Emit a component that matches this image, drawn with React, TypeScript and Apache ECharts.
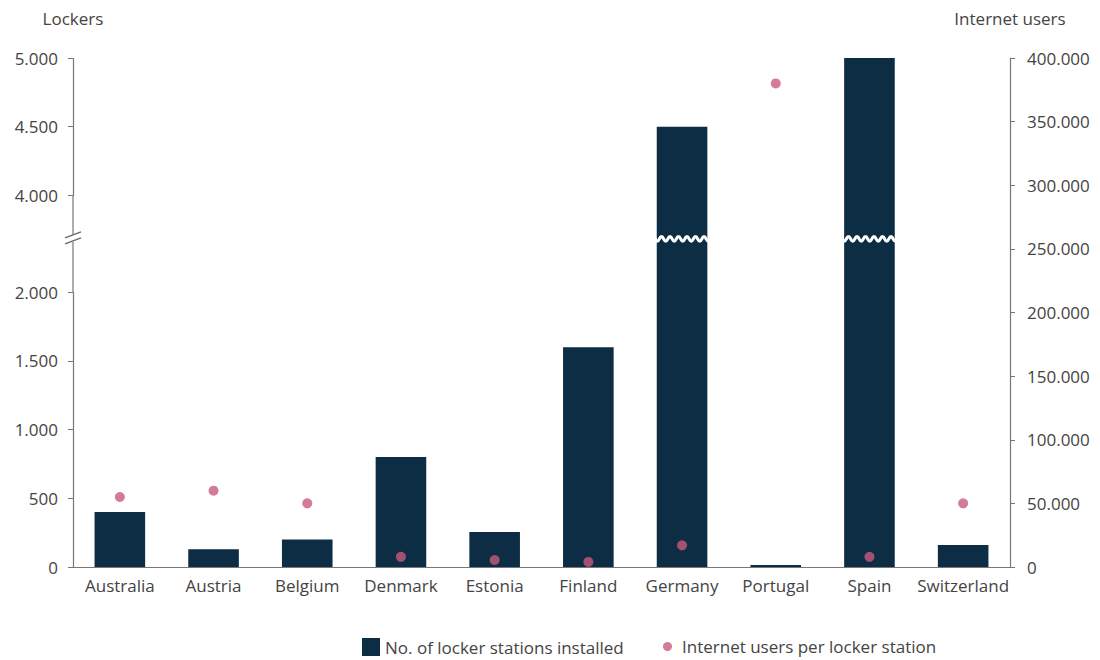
import React, { useEffect, useRef } from "react";
import * as echarts from "echarts";

const categories = ["Australia", "Austria", "Belgium", "Denmark", "Estonia", "Finland", "Germany", "Portugal", "Spain", "Switzerland"];
const lockerStations = [400, 130, 200, 800, 255, 1600, 4500, 15, 5000, 160];
const usersPerStation = [55000, 60000, 50000, 8000, 5500, 4000, 17000, 380000, 8000, 50000];
const leftTicks = [0, 500, 1000, 1500, 2000, 4000, 4500, 5000];
const barName = "No. of locker stations installed";
const dotName = "Internet users per locker station";

const FONT = "Open Sans";
const FS = 17;
const TXT = "#444";
const BAR = "#0c2d44";
const DOT = "#c95a7f";

const fmt = (v: number) => String(v).replace(/\B(?=(\d{3})+(?!\d))/g, ".");

export default function App() {
  const ref = useRef<HTMLDivElement>(null);
  useEffect(() => {
    if (!ref.current) return;
    const chart = echarts.init(ref.current, undefined, { renderer: "svg" });
    chart.setOption({
      animation: false,
      backgroundColor: "#fff",
      textStyle: { fontFamily: FONT },
      grid: { left: 73, right: 90, top: 58, bottom: 93 },
      legend: [
        {
          data: [{ name: barName, icon: "rect" }],
          left: 357,
          top: 633,
          itemWidth: 18,
          itemHeight: 18,
          textStyle: { fontFamily: FONT, fontSize: FS, color: TXT },
        },
        {
          data: [{ name: dotName, icon: "circle" }],
          left: 658,
          top: 633,
          itemWidth: 9,
          itemHeight: 9,
          textStyle: { fontFamily: FONT, fontSize: FS, color: TXT, padding: [0, 0, 0, 5] },
        },
      ],
      xAxis: {
        type: "category",
        data: categories,
        axisLine: { lineStyle: { color: "#777", width: 1.2 } },
        axisTick: { show: false },
        axisLabel: { fontFamily: FONT, fontSize: FS, color: TXT, margin: 10, interval: 0 },
      },
      yAxis: [
        {
          type: "value",
          min: 0,
          max: 5000,
          interval: 500,
          name: "Lockers",
          nameLocation: "end",
          nameGap: 31,
          nameTextStyle: { fontFamily: FONT, fontSize: FS, color: TXT, align: "center" },
          breaks: [{ start: 2000, end: 4000, gap: 706 }],
          breakArea: { show: false, expandOnClick: false },
          breakLabelLayout: { moveOverlap: false },
          axisLine: { show: true, lineStyle: { color: "#777", width: 1.2 } },
          axisTick: { show: true, length: 5, lineStyle: { color: "#777" } },
          splitLine: { show: false },
          axisLabel: {
            fontFamily: FONT,
            fontSize: FS,
            color: TXT,
            margin: 15,
            hideOverlap: false,
            formatter: (v: number) => (leftTicks.indexOf(v) >= 0 ? fmt(v) : ""),
          },
        },
        {
          type: "value",
          min: 0,
          max: 400000,
          interval: 50000,
          name: "Internet users",
          nameLocation: "end",
          nameGap: 31,
          nameTextStyle: { fontFamily: FONT, fontSize: FS, color: TXT, align: "center" },
          axisLine: { show: true, lineStyle: { color: "#777", width: 1.2 } },
          axisTick: { show: true, length: 5, lineStyle: { color: "#777" } },
          splitLine: { show: false },
          axisLabel: { fontFamily: FONT, fontSize: FS, color: TXT, margin: 17, formatter: (v: number) => fmt(v) },
        },
      ],
      series: [
        {
          name: barName,
          type: "bar",
          yAxisIndex: 0,
          data: lockerStations,
          barWidth: "54%",
          itemStyle: { color: BAR },
        },
        {
          name: dotName,
          type: "scatter",
          yAxisIndex: 1,
          data: usersPerStation,
          symbolSize: 10,
          itemStyle: { color: DOT },
          z: 5,
        },
      ],
    });

    const y2 = chart.convertToPixel({ yAxisIndex: 0 }, 2000) as number;
    const y4 = chart.convertToPixel({ yAxisIndex: 0 }, 4000) as number;
    const x0 = chart.convertToPixel({ xAxisIndex: 0 }, 0) as number;
    const x1 = chart.convertToPixel({ xAxisIndex: 0 }, 1) as number;
    const xL = x0 - (x1 - x0) / 2;
    const xR = xL + (x1 - x0) * categories.length;
    const ym = (y2 + y4) / 2 - 5;
    const pts: number[][] = [];
    const half = 4.25;
    let k = 0;
    for (let x = xL + 2; x <= xR - 2; x += half) {
      pts.push([x, ym + (k % 2 === 0 ? -2.2 : 2.2)]);
      k++;
    }
    chart.setOption({
      graphic: [
        { type: "line", shape: { x1: xL, y1: y4, x2: xL, y2: y2 }, style: { stroke: "#777", lineWidth: 1.2 }, z: 150 },
        { type: "polyline", shape: { points: pts, smooth: 0.5 }, style: { stroke: "#fff", lineWidth: 3.2, fill: null }, z: 100 },
        { type: "rect", shape: { x: xL - 3, y: ym - 4, width: 6, height: 7 }, style: { fill: "#fff" }, z: 200 },
        { type: "line", shape: { x1: xL - 8, y1: ym - 1, x2: xL + 8, y2: ym - 7 }, style: { stroke: "#666", lineWidth: 1.3 }, z: 201 },
        { type: "line", shape: { x1: xL - 8, y1: ym + 5, x2: xL + 8, y2: ym - 1 }, style: { stroke: "#666", lineWidth: 1.3 }, z: 201 },
      ],
    });

    return () => chart.dispose();
  }, []);
  return <div ref={ref} style={{ width: 1100, height: 660, position: "absolute", left: 0, top: 0 }} />;
}
